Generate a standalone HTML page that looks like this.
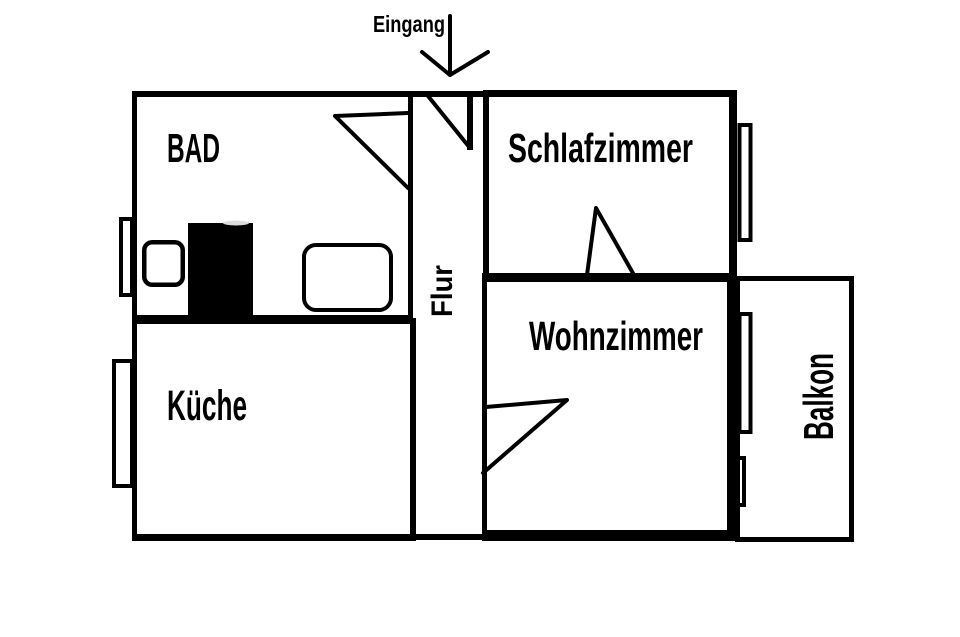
<!DOCTYPE html>
<html><head><meta charset="utf-8"><style>
html,body{margin:0;padding:0;background:#fff;}
svg{display:block;}
text{font-family:"Liberation Sans",sans-serif;font-weight:bold;fill:#000;}
</style></head><body>
<svg width="960" height="637" viewBox="0 0 960 637" xmlns="http://www.w3.org/2000/svg">
<rect width="960" height="637" fill="#fff"/>
<g fill="#000">
<rect x="132" y="91" width="357" height="6"/>
<rect x="483" y="90" width="254" height="7"/>
<rect x="132" y="91" width="5" height="450"/>
<rect x="408" y="91" width="5" height="227"/>
<rect x="132" y="315" width="281" height="9"/>
<rect x="410" y="318" width="6" height="223"/>
<rect x="132" y="534" width="284" height="7"/>
<rect x="416" y="534" width="67" height="6"/>
<rect x="467" y="91" width="6" height="59"/>
<rect x="483" y="90" width="6" height="188"/>
<rect x="729" y="90" width="8" height="192"/>
<rect x="482" y="273" width="255" height="9"/>
<rect x="482" y="273" width="5" height="268"/>
<rect x="727" y="273" width="8" height="268"/>
<rect x="482" y="530" width="253" height="11"/>
<rect x="188" y="223" width="65" height="95"/>
</g>
<ellipse cx="236" cy="223" rx="13" ry="2.5" fill="#ddd"/>
<g fill="none" stroke="#000">
<rect x="737.5" y="278.5" width="114" height="261" stroke-width="5"/>
<rect x="739.5" y="125" width="11" height="115" stroke-width="4"/>
<rect x="739.5" y="314" width="11" height="118" stroke-width="4"/>
<rect x="737" y="458" width="7" height="47" stroke-width="4"/>
<rect x="121" y="219" width="11" height="76" stroke-width="4"/>
<rect x="114" y="361" width="18" height="125" stroke-width="4"/>
<rect x="144.25" y="242.25" width="38.5" height="42.5" rx="8" stroke-width="4.5"/>
<rect x="304" y="245" width="87" height="65" rx="12" stroke-width="4"/>
<g stroke-width="4" stroke-linecap="round" stroke-linejoin="round">
<polyline points="408,113 335,116 408,188"/>
<line x1="428" y1="96" x2="470" y2="148"/>
<polyline points="587,275 596,208 634,275"/>
<polyline points="486,407 567,400 483,473"/>
<line x1="450" y1="16" x2="450" y2="75"/>
<polyline points="422,52 450,75 488,52"/>
</g>
</g>
<text x="373" y="32" font-size="23" textLength="72" lengthAdjust="spacingAndGlyphs">Eingang</text>
<text x="167" y="162" font-size="41" textLength="53" lengthAdjust="spacingAndGlyphs">BAD</text>
<text x="508" y="162" font-size="41" textLength="185" lengthAdjust="spacingAndGlyphs">Schlafzimmer</text>
<text x="529" y="350" font-size="41" textLength="174" lengthAdjust="spacingAndGlyphs">Wohnzimmer</text>
<text x="167" y="420" font-size="43" textLength="80" lengthAdjust="spacingAndGlyphs">Küche</text>
<text transform="translate(452,317) rotate(-90)" x="0" y="0" font-size="30" textLength="52" lengthAdjust="spacingAndGlyphs">Flur</text>
<text transform="translate(833,440) rotate(-90)" x="0" y="0" font-size="42" textLength="87" lengthAdjust="spacingAndGlyphs">Balkon</text>
</svg>
</body></html>
